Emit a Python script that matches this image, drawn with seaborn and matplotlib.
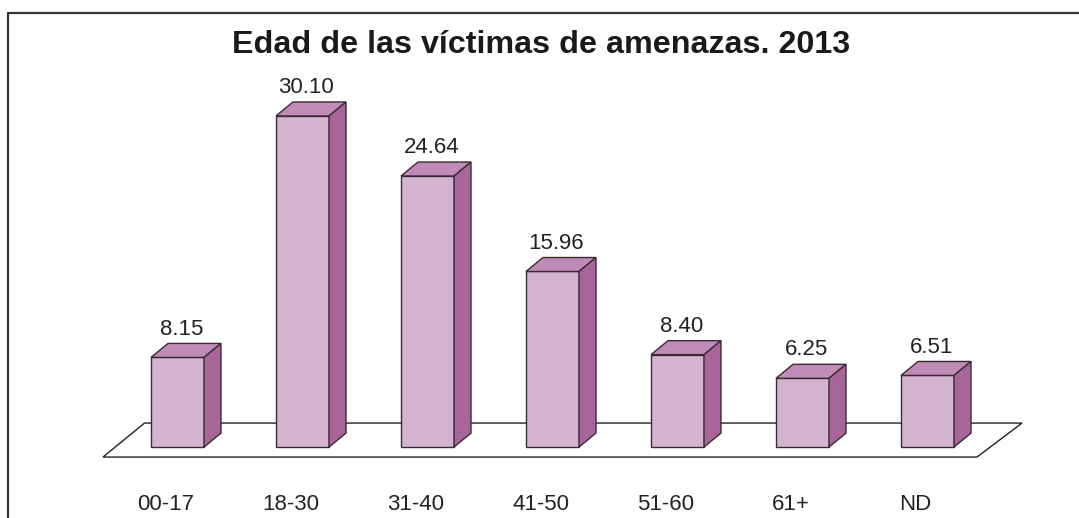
import pandas as pd
import seaborn as sns
import matplotlib.pyplot as plt
from matplotlib.patches import Polygon
from matplotlib.lines import Line2D

categories = ["00-17", "18-30", "31-40", "41-50", "51-60", "61+", "ND"]
values = [8.15, 30.10, 24.64, 15.96, 8.40, 6.25, 6.51]
title = "Edad de las víctimas de amenazas. 2013"

front_col = "#D4B3D0"
top_col = "#C08BB6"
side_col = "#A86599"
edge_col = "#3A2A36"

df = pd.DataFrame({"Edad": categories, "Porcentaje": values})

plt.rcParams["font.family"] = ["Liberation Sans", "DejaVu Sans"]
fig = plt.figure(figsize=(10.79, 5.18), dpi=100)
ax = fig.add_axes([0, 0, 1, 1])

sns.barplot(x="Edad", y="Porcentaje", data=df, width=0.424,
            color=front_col, edgecolor=edge_col, linewidth=1.0,
            saturation=1, ax=ax, zorder=3)

# pseudo 3D: depth of each bar
dx, dy = 0.136, 1.27
half = 0.212
for i, v in enumerate(values):
    x0, x1 = i - half, i + half
    top = Polygon([(x0, v), (x0 + dx, v + dy), (x1 + dx, v + dy), (x1, v)],
                  closed=True, facecolor=top_col, edgecolor=edge_col, lw=1.0, zorder=4)
    side = Polygon([(x1, 0), (x1, v), (x1 + dx, v + dy), (x1 + dx, dy)],
                   closed=True, facecolor=side_col, edgecolor=edge_col, lw=1.0, zorder=4)
    ax.add_patch(top)
    ax.add_patch(side)
    ax.text(i + 0.03, v + dy + 0.35, f"{v:.2f}", ha="center", va="bottom",
            fontsize=16, color="#222222")
    ax.text(i - 0.095, -5.18, categories[i], ha="center", va="center",
            fontsize=16, color="#222222")

# floor
floor = Polygon([(-0.596, -0.91), (-0.264, 2.18), (6.756, 2.18), (6.396, -0.91)],
                closed=True, facecolor="white", edgecolor="#222222", lw=1.0, zorder=1)
ax.add_patch(floor)

ax.set_xlim(-1.42, 7.212)
ax.set_ylim(-6.45, 40.64)
ax.axis("off")

fig.text(0.501, 0.898, title, ha="center", va="baseline",
         fontsize=23.2, fontweight="bold", color="#1a1a1a")

# frame around the chart
fig.add_artist(Line2D([0.0074, 0.0074, 1.0], [0.0, 0.975, 0.975],
                      transform=fig.transFigure, color="#333333", lw=1.6))

fig.savefig("out.png", dpi=100)
